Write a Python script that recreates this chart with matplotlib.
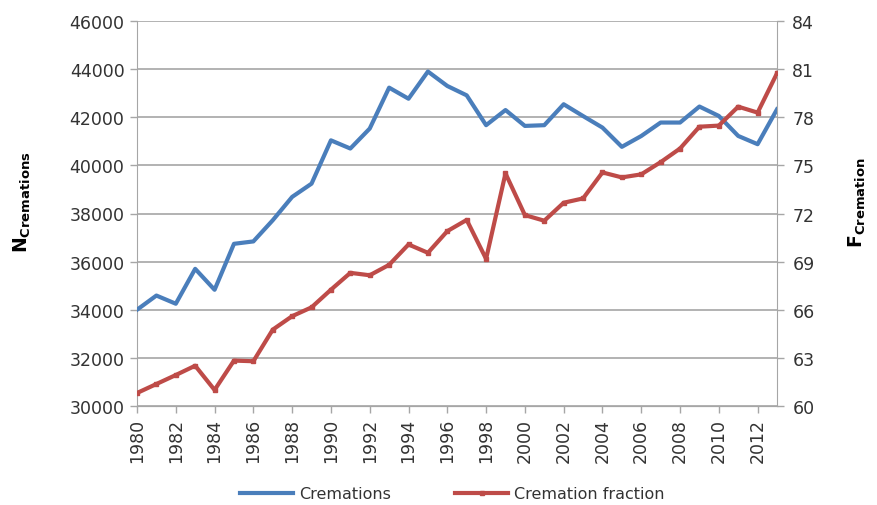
import matplotlib
matplotlib.use("Agg")
import matplotlib.pyplot as plt

years = list(range(1980, 2014))
cremations = [34000, 34590, 34250, 35700, 34830, 36740, 36840, 37720, 38690, 39240,
              41040, 40700, 41530, 43230, 42770, 43900, 43300, 42910, 41670, 42300,
              41640, 41670, 42540, 42050, 41570, 40770, 41220, 41780, 41780, 42445,
              42054, 41223, 40880, 42330]
fraction = [60.81, 61.37, 61.93, 62.51, 61.0, 62.83, 62.79, 64.76, 65.6, 66.15,
            67.25, 68.3, 68.15, 68.8, 70.07, 69.55, 70.9, 71.6, 69.17, 74.5,
            71.9, 71.55, 72.67, 72.94, 74.56, 74.25, 74.44, 75.2, 76.05, 77.41,
            77.48, 78.66, 78.29, 80.74]
left_ticks = list(range(30000, 46001, 2000))
right_ticks = list(range(60, 85, 3))
x_ticks = list(range(1980, 2013, 2))

plt.rcParams['font.family'] = ['DejaVu Sans']
grey = "#a6a6a6"
txt = "#333333"

fig = plt.figure(figsize=(8.77, 5.06), dpi=100)
ax = fig.add_axes([137/877, 1-407/506, 640/877, 385/506])
ax2 = ax.twinx()

l1, = ax.plot(years, cremations, color="#4a7ebb", lw=3, label="Cremations", zorder=3)
l2, = ax2.plot(years, fraction, color="#be4b48", lw=3, marker="s", ms=3.5,
               label="Cremation fraction", zorder=3)

ax.set_xlim(1980, 2013)
ax.set_ylim(30000, 46000)
ax2.set_ylim(60, 84)
ax.set_yticks(left_ticks)
ax2.set_yticks(right_ticks)
ax.set_xticks(x_ticks)
ax.set_xticklabels([str(y) for y in x_ticks], rotation=90)

ax.yaxis.grid(True, color=grey, lw=1.2)
ax.set_axisbelow(True)

for a in (ax, ax2):
    for s in a.spines.values():
        s.set_color(grey)
    a.spines['top'].set_visible(False)
    a.tick_params(colors=grey, labelcolor=txt, labelsize=12.5, length=5, width=1)
ax2.spines['left'].set_visible(False)
ax.spines['right'].set_visible(False)
ax.tick_params(axis='y', pad=4)
ax2.tick_params(axis='y', pad=6)

fig.text(0.025, 0.6, r'$\mathbf{N}_{\mathbf{Cremations}}$', rotation=90,
         fontsize=13.5, ha='center', va='center', color='black')
fig.text(0.978, 0.6, r'$\mathbf{F}_{\mathbf{Cremation}}$', rotation=90,
         fontsize=13.5, ha='center', va='center', color='black')

fig.legend([l1, l2], ["Cremations", "Cremation fraction"], loc='center',
           bbox_to_anchor=(0.516, 0.022), ncol=2, frameon=False, fontsize=11.5,
           handlelength=3.3, columnspacing=4.0, handletextpad=0.4,
           labelcolor=txt)

fig.savefig("out.png", dpi=100)
